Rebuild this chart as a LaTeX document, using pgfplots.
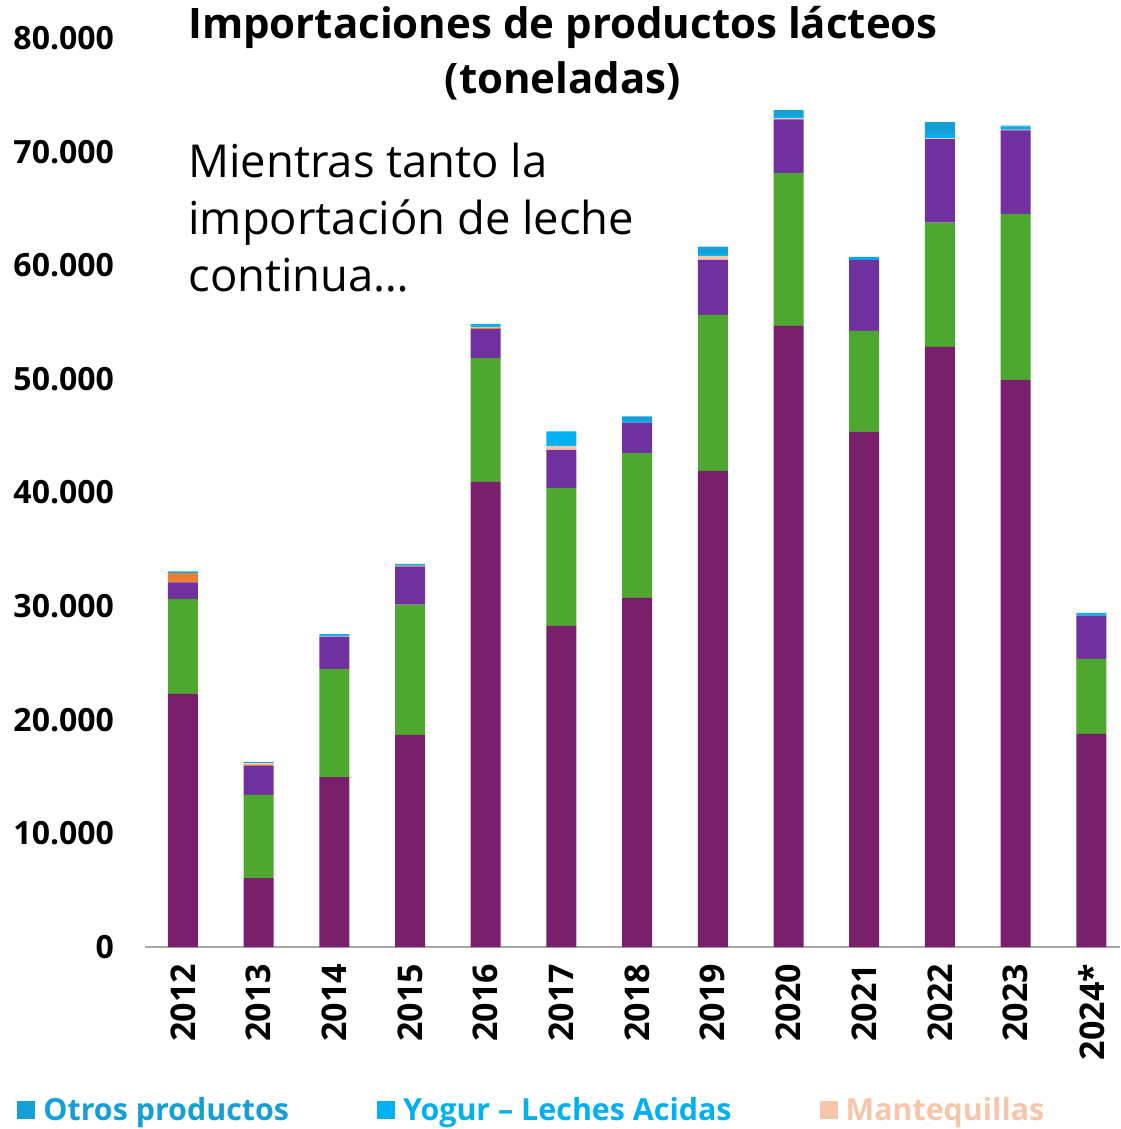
\documentclass[border=0pt]{standalone}
\usepackage{fontspec}
\setmainfont{Open Sans}
\usepackage{pgfplots}
\usepackage{pgfplotstable}
\pgfplotsset{compat=1.18}

\definecolor{cLeche}{HTML}{7A1F6B}
\definecolor{cVerde}{HTML}{4EA72E}
\definecolor{cMorado}{HTML}{7030A0}
\definecolor{cNaranja}{HTML}{ED7D31}
\definecolor{cMant}{HTML}{F6C5AA}
\definecolor{cYogur}{HTML}{00B0F0}
\definecolor{cOtros}{HTML}{149FD6}

% toneladas por año (capas de abajo hacia arriba)
\pgfplotstableread{
x  leche  verde  morado naranja mant yogur otros
0  22270  8360   1470   800     0    160   0
1  6070   7310   2550   100     150  110   0
2  14960  9510   2850   0       60   150   0
3  18660  11480  3340   90      0    140   0
4  40930  10890  2550   150     60   230   0
5  28260  12140  3350   0       350  1290  0
6  30720  12740  2690   0       0    150   410
7  41900  13730  4850   0       350  170   650
8  54670  13440  4720   0       120  200   500
9  45330  8900   6250   0       0    140   120
10 52820  10940  7340   0       80   390   1030
11 49910  14610  7340   80      0    270   80
12 18750  6600   3810   0       0    240   0
}\datos

\begin{document}
\begin{tikzpicture}
\useasboundingbox (-72.5pt,-91pt) rectangle (487.5pt,473.5pt);
\begin{axis}[
    at={(0,0)}, anchor=south west,
    scale only axis,
    width=487.5pt, height=454.5pt,
    ybar stacked,
    bar width=15pt,
    xmin=-0.502, xmax=12.38,
    ymin=0, ymax=80000,
    ytick={0,10000,...,80000},
    scaled y ticks=false,
    xtick={0,...,12},
    xticklabels={2012,2013,2014,2015,2016,2017,2018,2019,2020,2021,2022,2023,2024*},
    separate axis lines,
    axis x line*=bottom,
    axis y line*=left,
    x axis line style={draw=gray!70, line width=0.8pt, -},
    y axis line style={draw=none},
    major tick length=0pt,
    /pgf/number format/.cd, 1000 sep={.}, assume math mode=true,
    /pgfplots/.cd,
    yticklabel style={font=\bfseries\fontsize{16}{16}\selectfont, xshift=-12pt},
    xticklabel style={font=\bfseries\fontsize{17}{17}\selectfont, rotate=90, anchor=east},
    xticklabel shift=5pt,
    reverse legend,
    legend columns=3,
    legend style={at={(0,0)}, anchor=west, xshift=-64pt, yshift=-81.5pt,
        draw=none, fill=none, inner sep=0pt,
        font=\bfseries\fontsize{15.2}{15.2}\selectfont,
        /tikz/every odd column/.append style={column sep=2pt},
        /tikz/every even column/.append style={column sep=42pt}},
    legend image code/.code={\fill[#1] (0pt,-4.5pt) rectangle (9pt,4.5pt);},
]
\addplot[fill=cLeche, draw=none, forget plot] table[x=x, y=leche] {\datos};
\addplot[fill=cVerde, draw=none, forget plot] table[x=x, y=verde] {\datos};
\addplot[fill=cMorado, draw=none, forget plot] table[x=x, y=morado] {\datos};
\addplot[fill=cNaranja, draw=none, forget plot] table[x=x, y=naranja] {\datos};
\addplot[fill=cMant, draw=none] table[x=x, y=mant] {\datos};
\addlegendentry{\textcolor{cMant}{Mantequillas}}
\addplot[fill=cYogur, draw=none] table[x=x, y=yogur] {\datos};
\addlegendentry{\textcolor{cYogur}{Yogur – Leches Acidas}}
\addplot[fill=cOtros, draw=none] table[x=x, y=otros] {\datos};
\addlegendentry{\textcolor{cOtros}{Otros productos}}
\end{axis}
\node[anchor=north, align=center, inner sep=0pt,
      font=\bfseries\fontsize{21}{27.5}\selectfont] at (209pt,470.5pt)
      {Importaciones de productos lácteos\\(toneladas)};
\node[anchor=north west, align=left, inner sep=0pt,
      font=\fontsize{22.7}{28.5}\selectfont] at (21.5pt,402pt)
      {Mientras tanto la\\importación de leche\\continua…};
\end{tikzpicture}
\end{document}
